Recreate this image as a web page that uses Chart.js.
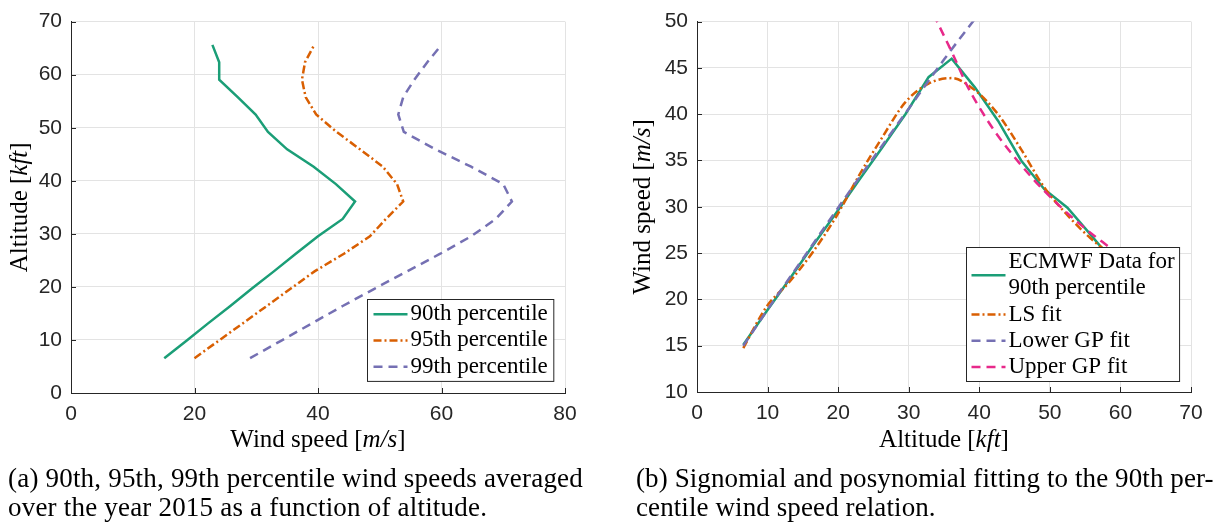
<!DOCTYPE html>
<html>
<head>
<meta charset="utf-8">
<script src="https://cdn.jsdelivr.net/npm/chart.js@4.4.0/dist/chart.umd.min.js"></script>
<style>
  html, body { margin: 0; padding: 0; background: #fff; }
  body { width: 1217px; height: 523px; position: relative; overflow: hidden; }
  canvas { position: absolute; top: 0; }
  #leftChart { left: 0; }
  #rightChart { left: 620px; }
  .caption { position: absolute; font-family: 'Liberation Serif', 'Times New Roman', serif; font-size: 27px; letter-spacing: 0.2px; line-height: 29px; color: #000; white-space: nowrap; }
  #capA { left: 8px; top: 464px; }
  #capB { left: 636px; top: 464px; letter-spacing: 0.1px; }
</style>
</head>
<body>
<canvas id="leftChart" width="600" height="470"></canvas>
<canvas id="rightChart" width="597" height="470"></canvas>
<div class="caption" id="capA">(a) 90th, 95th, 99th percentile wind speeds averaged<br>over the year 2015 as a function of altitude.</div>
<div class="caption" id="capB">(b) Signomial and posynomial fitting to the 90th per-<br>centile wind speed relation.</div>
<script>
// ECMWF levels (kft) and percentile wind speeds (m/s)
const altitudes = [6.56, 9.84, 13.12, 16.40, 19.69, 22.97, 26.25, 29.53, 32.81, 36.09, 39.37, 42.65, 45.93, 49.21, 52.49, 55.77, 59.06, 62.34, 65.62];
const speed90 = [15.1, 18.7, 22.2, 25.8, 29.3, 32.9, 36.4, 40.0, 44.0, 46.0, 42.9, 39.3, 35.0, 31.9, 29.9, 27.0, 24.0, 24.0, 22.9];
const speed95 = [20.0, 23.9, 27.8, 31.7, 35.6, 39.5, 44.2, 48.4, 51.0, 53.8, 52.8, 50.5, 46.8, 43.0, 39.7, 38.0, 37.4, 37.9, 39.4];
const speed99 = [29.0, 34.0, 39.0, 44.0, 49.2, 54.5, 59.8, 64.8, 68.8, 71.4, 70.0, 64.8, 59.0, 53.9, 53.0, 53.8, 55.6, 57.7, 60.0];

// fits for the 90th percentile (right panel)
const lsAlt = [6.56, 9.84, 13.12, 16.40, 19.69, 22.97, 26.25, 29.53, 32.81, 36.09, 39.37, 42.65, 45.93, 49.21, 52.49, 55.77, 59.06];
const lsSpeed = [14.75, 19.2, 21.9, 25.1, 28.9, 33.4, 37.5, 41.3, 43.3, 43.9, 42.6, 40.0, 36.2, 32.1, 29.1, 26.6, 24.6];
const lowerGpAlt = [6.56, 10, 15, 20, 25, 30, 35, 40];
const lowerGpSpeed = [15.0, 18.9, 24.4, 29.9, 35.3, 40.6, 45.9, 50.9];
const upperGpAlt = [33.5, 36.3, 38.2, 41.1, 43.0, 45.6, 49.1, 54.3, 59.0];
const upperGpSpeed = [50.8, 46.4, 43.2, 39.4, 37.3, 34.8, 31.8, 28.1, 25.3];

const serif = "'Liberation Serif', 'Times New Roman', serif";
const sans = "'Liberation Sans', Arial, Helvetica, sans-serif";
const green = '#1b9e77', orange = '#d95f02', purple = '#7570b3', pink = '#e7298a';
const dashDot = [8, 3, 2, 3];
const dashed = [9, 6];

const toPoints = (xs, ys) => xs.map((v, i) => ({ x: v, y: ys[i] }));

function lineSet(label, points, color, dash, extra) {
    return Object.assign({
        label: label,
        data: points,
        borderColor: color,
        backgroundColor: color,
        borderWidth: 2.5,
        borderDash: dash,
        showLine: true,
        pointRadius: 0,
        fill: false
    }, extra || {});
}

// draw text made of roman/italic pieces, like the LaTeX labels
function partsWidth(ctx, parts, size) {
    return parts.reduce((w, p) => {
        ctx.font = (p[1] ? 'italic ' : '') + size + 'px ' + serif;
        return w + ctx.measureText(p[0]).width;
    }, 0);
}
function drawParts(ctx, parts, size, x, y) {
    let cx = x;
    parts.forEach(p => {
        ctx.font = (p[1] ? 'italic ' : '') + size + 'px ' + serif;
        ctx.fillText(p[0], cx, y);
        cx += ctx.measureText(p[0]).width;
    });
}

// matlab-ish axes: inward ticks and axis labels
const matlabAxes = {
    id: 'matlabAxes',
    beforeDatasetsDraw(chart) {
        const { ctx, chartArea } = chart;
        const x = chart.scales.x, y = chart.scales.y;
        ctx.save();
        ctx.strokeStyle = '#262626';
        ctx.lineWidth = 1;
        ctx.beginPath();
        x.ticks.forEach(t => {
            const px = Math.round(x.getPixelForValue(t.value)) + 0.5;
            ctx.moveTo(px, chartArea.bottom);
            ctx.lineTo(px, chartArea.bottom - 5);
        });
        y.ticks.forEach(t => {
            const py = Math.round(y.getPixelForValue(t.value)) + 0.5;
            ctx.moveTo(chartArea.left, py);
            ctx.lineTo(chartArea.left + 5, py);
        });
        ctx.stroke();
        ctx.restore();
    },
    afterDraw(chart, args, opts) {
        const { ctx, chartArea } = chart;
        ctx.save();
        ctx.fillStyle = '#000';
        ctx.textBaseline = 'alphabetic';
        ctx.textAlign = 'left';
        const wx = partsWidth(ctx, opts.xTitle, opts.size);
        drawParts(ctx, opts.xTitle, opts.size, (chartArea.left + chartArea.right) / 2 - wx / 2, opts.xBaseline);
        const wy = partsWidth(ctx, opts.yTitle, opts.size);
        ctx.translate(opts.yBaseline, (chartArea.top + chartArea.bottom) / 2);
        ctx.rotate(-Math.PI / 2);
        drawParts(ctx, opts.yTitle, opts.size, -wy / 2, 0);
        ctx.restore();
    }
};

// boxed legend in the lower right corner, labels may have two lines
const boxLegend = {
    id: 'boxLegend',
    afterDraw(chart, args, opts) {
        const { ctx, chartArea } = chart;
        ctx.save();
        ctx.font = opts.size + 'px ' + serif;
        const items = chart.data.datasets.map(ds => ({ ds: ds, lines: ds.label.split('\n') }));
        let textW = 0, nLines = 0;
        items.forEach(it => {
            nLines += it.lines.length;
            it.lines.forEach(l => { textW = Math.max(textW, ctx.measureText(l).width); });
        });
        const w = opts.padX + opts.sample + opts.gap + textW + opts.padRight;
        const h = nLines * opts.lineH + 2 * opts.padY;
        const x0 = Math.round(chartArea.right - opts.right - w) + 0.5;
        const y0 = Math.round(chartArea.bottom - opts.bottom - h) + 0.5;
        ctx.fillStyle = '#fff';
        ctx.fillRect(x0, y0, w, h);
        ctx.strokeStyle = '#262626';
        ctx.lineWidth = 1;
        ctx.strokeRect(x0, y0, w, h);
        let cy = y0 + opts.padY;
        items.forEach(it => {
            const mid = cy + it.lines.length * opts.lineH / 2;
            ctx.save();
            ctx.strokeStyle = it.ds.borderColor;
            ctx.lineWidth = it.ds.borderWidth;
            ctx.setLineDash(it.ds.borderDash || []);
            ctx.beginPath();
            ctx.moveTo(x0 + opts.padX, mid);
            ctx.lineTo(x0 + opts.padX + opts.sample, mid);
            ctx.stroke();
            ctx.restore();
            ctx.fillStyle = '#000';
            ctx.textBaseline = 'middle';
            it.lines.forEach((l, i) => {
                ctx.fillText(l, x0 + opts.padX + opts.sample + opts.gap, cy + (i + 0.5) * opts.lineH);
            });
            cy += it.lines.length * opts.lineH;
        });
        ctx.restore();
    }
};

function axisOpts(min, max, step, fit) {
    return {
        type: 'linear',
        min: min,
        max: max,
        ticks: { stepSize: step, color: '#262626', font: { family: sans, size: 21 }, padding: 9, maxRotation: 0 },
        grid: { color: '#e3e3e3', drawTicks: false },
        border: { display: true, color: '#262626', width: 1 },
        afterFit: fit
    };
}

function makeChart(id, datasets, xr, yr, cfg) {
    return new Chart(document.getElementById(id), {
        type: 'scatter',
        data: { datasets: datasets },
        options: {
            responsive: false,
            animation: false,
            layout: { padding: cfg.padding },
            plugins: {
                legend: { display: false },
                tooltip: { enabled: false },
                boxLegend: cfg.legend,
                matlabAxes: cfg.axes
            },
            scales: {
                x: axisOpts(xr[0], xr[1], xr[2], s => { s.height = cfg.xHeight; }),
                y: axisOpts(yr[0], yr[1], yr[2], s => { s.width = cfg.yWidth; })
            }
        },
        plugins: [matlabAxes, boxLegend]
    });
}

// (a) percentiles, wind speed on x, altitude on y
makeChart('leftChart', [
    lineSet('90th percentile', toPoints(speed90, altitudes), green, []),
    lineSet('95th percentile', toPoints(speed95, altitudes), orange, dashDot),
    lineSet('99th percentile', toPoints(speed99, altitudes), purple, dashed)
], [0, 80, 20], [0, 70, 10], {
    padding: { left: 0, right: 35, top: 13, bottom: 0 },
    xHeight: 77,
    yWidth: 71,
    legend: { size: 23, right: 12, bottom: 12, padX: 6, sample: 34, gap: 3, padRight: 6, lineH: 26.3, padY: 1.5 },
    axes: {
        size: 25,
        xTitle: [['Wind speed [', false], ['m/s', true], [']', false]],
        yTitle: [['Altitude [', false], ['kft', true], [']', false]],
        xBaseline: 447,
        yBaseline: 27
    }
});

// (b) fits, altitude on x, wind speed on y
makeChart('rightChart', [
    lineSet('ECMWF Data for\n90th percentile', toPoints(altitudes, speed90), green, [], { order: 3 }),
    lineSet('LS fit', toPoints(lsAlt, lsSpeed), orange, dashDot, { order: 2, cubicInterpolationMode: 'monotone' }),
    lineSet('Lower GP fit', toPoints(lowerGpAlt, lowerGpSpeed), purple, dashed, { order: 1, cubicInterpolationMode: 'monotone' }),
    lineSet('Upper GP fit', toPoints(upperGpAlt, upperGpSpeed), pink, dashed, { order: 0, cubicInterpolationMode: 'monotone' })
], [0, 70, 10], [10, 50, 5], {
    padding: { left: 0, right: 26, top: 13, bottom: 0 },
    xHeight: 78,
    yWidth: 77,
    legend: { size: 23, right: 12, bottom: 11, padX: 5, sample: 34, gap: 3, padRight: 5, lineH: 26.2, padY: 1.5 },
    axes: {
        size: 25,
        xTitle: [['Altitude [', false], ['kft', true], [']', false]],
        yTitle: [['Wind speed [', false], ['m/s', true], [']', false]],
        xBaseline: 447,
        yBaseline: 30
    }
});
</script>
</body>
</html>
